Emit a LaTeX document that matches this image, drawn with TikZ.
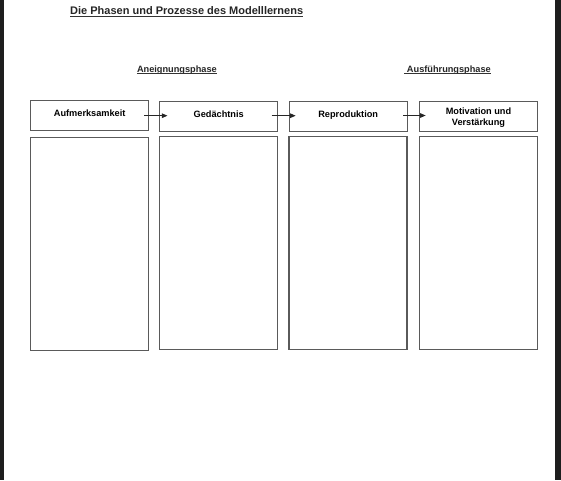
\documentclass[tikz,border=0pt]{standalone}
\usepackage{fontspec}
\setmainfont{Liberation Sans}
\usetikzlibrary{arrows.meta}
\definecolor{boxline}{HTML}{5A5A5A}
\definecolor{edge}{HTML}{1E1E1E}
\tikzset{
  box/.style={draw=boxline, line width=1.1pt, minimum width=118pt, inner sep=0pt, font=\bfseries\fontsize{9.2}{10.6}\selectfont, align=center},
  topbox/.style={box, minimum height=30pt, text depth=5pt},
  lowbox/.style={box, minimum height=213pt},
  head/.style={inner sep=0pt, anchor=base, text depth=0pt, font=\bfseries\fontsize{9.2}{10.6}\selectfont, text=black!85},
  titlestyle/.style={inner sep=0pt, anchor=base, text depth=0pt, font=\bfseries\fontsize{11}{13}\selectfont, text=black!85},
  uline/.style={line width=0.8pt, black!80},
  arr/.style={line width=0.9pt, black!85, -{Triangle[length=5.5pt,width=4.5pt]}}
}
\begin{document}
\begin{tikzpicture}[x=1pt, y=-1pt]
\useasboundingbox (0,0) rectangle (561,480);
\fill[white] (0,0) rectangle (561,480);
\fill[edge] (0,0) rectangle (3.5,480);
\fill[edge] (555,0) rectangle (561,480);

\node[titlestyle] (title) at (186.7,14.3) {Die Phasen und Prozesse des Modelllernens};
\draw[uline] ([yshift=-1.4pt]title.south west) -- ([yshift=-1.4pt]title.south east);

\node[head] (ph1) at (176.9,72.3) {Aneignungsphase};
\draw[uline] ([yshift=-1.3pt]ph1.south west) -- ([yshift=-1.3pt]ph1.south east);
\node[head] (ph2) at (448.9,72.3) {Ausführungsphase};
\draw[uline] ([xshift=-2.6pt,yshift=-1.3pt]ph2.south west) -- ([yshift=-1.3pt]ph2.south east);

\node[topbox] (a1) at (89.7,115.5) {Aufmerksamkeit};
\node[topbox] (a2) at (218.7,116.7) {Gedächtnis};
\node[topbox] (a3) at (348.2,116.7) {Reproduktion};
\node[topbox, text depth=0pt] (a4) at (478.5,116.7) {Motivation und\\Verstärkung};

\node[lowbox] (b1) at (89.7,243.9) {};
\node[lowbox] (b2) at (218.7,243.4) {};
\node[lowbox] (b3) at (348.0,243.2) {};
\node[lowbox] (b4) at (478.2,243.2) {};

\draw[arr] ([xshift=-5pt,yshift=-0.2pt]a1.east) -- ([xshift=8.3pt,yshift=-0.2pt]a1.east -| a2.west);
\draw[arr] ([xshift=-6.7pt,yshift=1pt]a2.east) -- ([xshift=7pt,yshift=1pt]a2.east -| a3.west);
\draw[arr] ([xshift=-4.6pt,yshift=1.2pt]a3.east) -- ([xshift=6.7pt,yshift=1.2pt]a3.east -| a4.west);
\end{tikzpicture}
\end{document}
